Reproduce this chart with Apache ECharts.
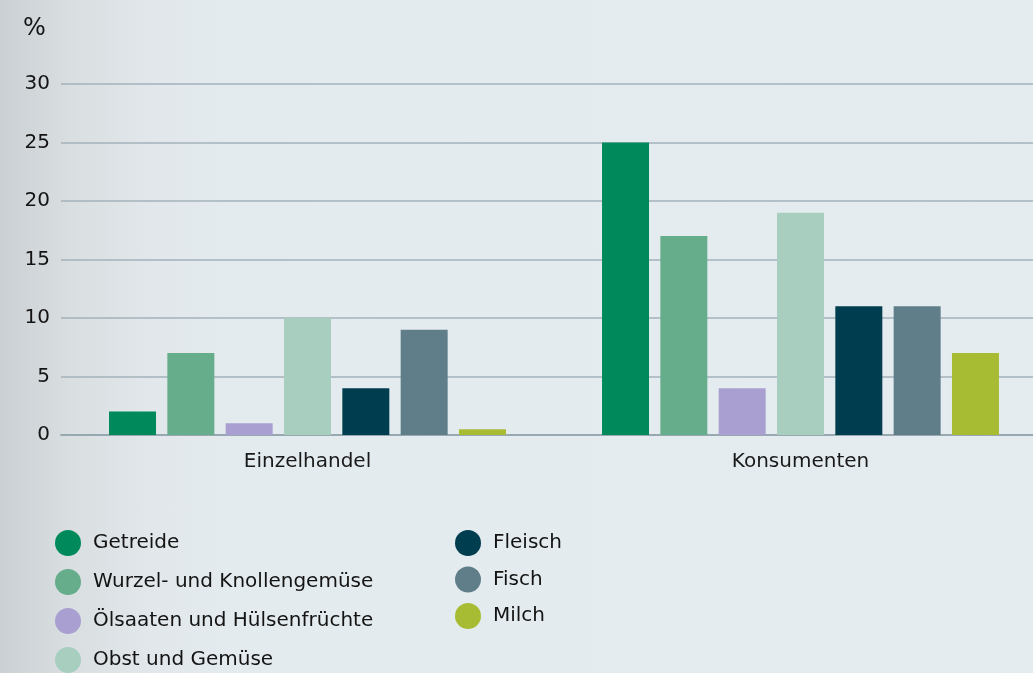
<!DOCTYPE html>
<html>
<head>
<meta charset="utf-8">
<script src="https://cdn.jsdelivr.net/npm/echarts@6/dist/echarts.min.js"></script>
<style>
  html, body { margin: 0; padding: 0; }
  body {
    width: 1033px; height: 673px; overflow: hidden;
    background: linear-gradient(to right, #cbd0d4 0px, #d9dee1 70px, #e1e7ea 150px, #e4ebee 230px, #e4ecef 100%);
  }
  #chart { width: 1047px; height: 673px; }
</style>
</head>
<body>
<div id="chart"></div>
<script>
// Anteil der Lebensmittelabfälle nach Stufe und Produktgruppe (%)
const categories = ['Einzelhandel', 'Konsumenten'];
const seriesNames = ['Getreide', 'Wurzel- und Knollengemüse', 'Ölsaaten und Hülsenfrüchte', 'Obst und Gemüse', 'Fleisch', 'Fisch', 'Milch'];
const getreide = [2, 25];
const wurzel = [7, 17];
const oelsaaten = [1, 4];
const obst = [10, 19];
const fleisch = [4, 11];
const fisch = [9, 11];
const milch = [0.5, 7];
const seriesValues = [getreide, wurzel, oelsaaten, obst, fleisch, fisch, milch];
const colors = ['#008a5c', '#66ad8b', '#a99fd0', '#a8cebf', '#003d4f', '#5f7e89', '#a8bc33'];
const yTicks = [0, 5, 10, 15, 20, 25, 30];

const FONT = '"DejaVu Sans", sans-serif';
const chart = echarts.init(document.getElementById('chart'), null, { renderer: 'canvas' });

const legendText = { fontFamily: FONT, fontSize: 20, color: '#141414', lineHeight: 26, padding: [0, 0, 0, 7] };

chart.setOption({
  backgroundColor: 'transparent',
  animation: false,
  color: colors,
  graphic: [{
    type: 'text', left: 23, top: 17,
    style: { text: '%', font: '24px ' + FONT, fill: '#141414' }
  }],
  grid: { left: 61, right: 0, top: 84, bottom: 238, containLabel: false },
  legend: [
    {
      data: seriesNames.slice(0, 4),
      orient: 'vertical', left: 55, top: 530,
      icon: 'circle', itemWidth: 26, itemHeight: 26, itemGap: 13,
      textStyle: legendText, padding: 0
    },
    {
      data: seriesNames.slice(4),
      orient: 'vertical', left: 455, top: 530,
      icon: 'circle', itemWidth: 26, itemHeight: 26, itemGap: 10.5,
      textStyle: legendText, padding: 0
    }
  ],
  xAxis: {
    type: 'category',
    data: categories,
    axisLine: { show: true, lineStyle: { color: '#98a8b1', width: 2 } },
    axisTick: { show: false },
    axisLabel: { fontFamily: FONT, fontSize: 20, color: '#1a1a1a', margin: 17 }
  },
  yAxis: {
    type: 'value',
    min: 0, max: 30, interval: 5,
    axisLine: { show: false },
    axisTick: { show: false },
    splitLine: { lineStyle: { color: '#a3b2ba', width: 1.5 } },
    axisLabel: {
      fontFamily: FONT, fontSize: 20, color: '#141414', margin: 11,
      formatter: v => (yTicks.includes(v) ? String(v) : '')
    }
  },
  series: seriesNames.map((name, i) => ({
    name,
    type: 'bar',
    data: seriesValues[i],
    barWidth: 47,
    barGap: '24.1%',
    itemStyle: { color: colors[i] }
  }))
});
</script>
</body>
</html>
